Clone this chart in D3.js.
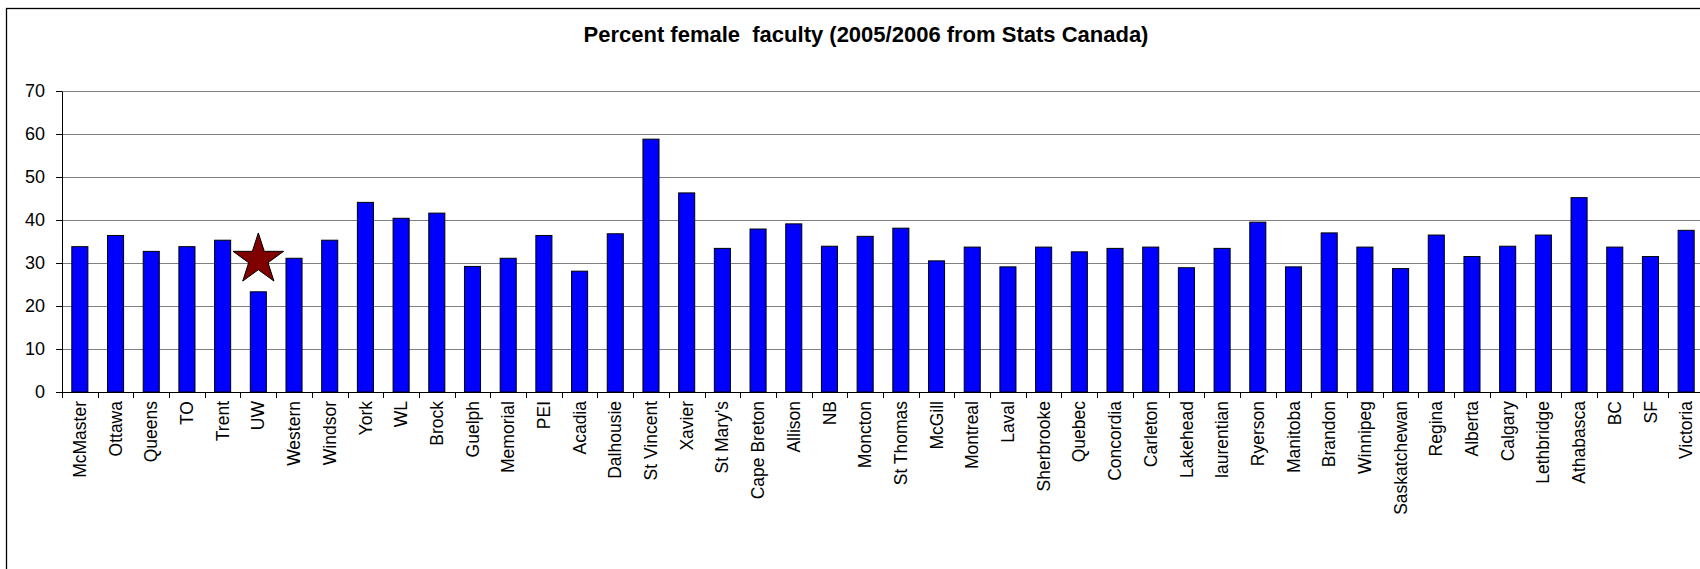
<!DOCTYPE html>
<html><head><meta charset="utf-8">
<script src="https://cdn.jsdelivr.net/npm/d3@7"></script>
<style>body{margin:0;background:#fff}svg{display:block}text{font-family:"Liberation Sans",Arial,sans-serif}</style>
</head><body><svg id="chart" width="1700" height="569"></svg>
<script>
const categories = ["McMaster","Ottawa","Queens","TO","Trent","UW","Western","Windsor","York","WL","Brock","Guelph","Memorial","PEI","Acadia","Dalhousie","St Vincent","Xavier","St Mary's","Cape Breton","Allison","NB","Moncton","St Thomas","McGill","Montreal","Laval","Sherbrooke","Quebec","Concordia","Carleton","Lakehead","laurentian","Ryerson","Manitoba","Brandon","Winnipeg","Saskatchewan","Regina","Alberta","Calgary","Lethbridge","Athabasca","BC","SF","Victoria"];
const values = [33.8,36.4,32.7,33.8,35.3,23.3,31.1,35.3,44.1,40.4,41.6,29.2,31.1,36.4,28.1,36.8,58.8,46.3,33.4,37.9,39.1,33.9,36.2,38.1,30.5,33.7,29.1,33.7,32.6,33.4,33.7,28.9,33.4,39.5,29.1,37.0,33.7,28.7,36.5,31.5,33.9,36.5,45.2,33.7,31.5,37.6];
const yTicks = [0,10,20,30,40,50,60,70];
const titleText = "Percent female  faculty (2005/2006 from Stats Canada)";
const highlightCategory = "UW";
const highlightValue = 30.8;

const W = 1700, H = 569;
const svg = d3.select("#chart");

// outer chart frame
svg.append("rect").attr("x", 6.5).attr("y", 8.5).attr("width", 1800).attr("height", 1000)
  .attr("fill", "none").attr("stroke", "#000").attr("stroke-width", 1.3);

const x = d3.scaleBand().domain(categories).range([62, 1704]).paddingInner(0.55).paddingOuter(0.275);
const y = d3.scaleLinear().domain([0, 70]).range([392, 91]);

// gridlines
svg.append("g").selectAll("line").data(yTicks.filter(t => t > 0)).join("line")
  .attr("x1", 62).attr("x2", 1704)
  .attr("y1", d => Math.round(y(d)) + 0.5).attr("y2", d => Math.round(y(d)) + 0.5)
  .attr("stroke", "#808080").attr("stroke-width", 1);

// bars
svg.append("g").selectAll("rect").data(categories).join("rect")
  .attr("x", d => x(d)).attr("y", (d, i) => y(values[i]))
  .attr("width", x.bandwidth()).attr("height", (d, i) => y(0) - y(values[i]))
  .attr("fill", "#0000FF").attr("stroke", "#000").attr("stroke-width", 1);

// y axis
const yAxis = svg.append("g").attr("transform", "translate(62,0)")
  .call(d3.axisLeft(y).tickValues(yTicks).tickSize(6).tickSizeOuter(0).tickPadding(11));
yAxis.select(".domain").attr("stroke", "#000");
yAxis.selectAll(".tick line").attr("stroke", "#000");
yAxis.selectAll("text").attr("font-size", 18).attr("fill", "#000")
  .style("font-family", '"Liberation Sans",Arial,sans-serif');

// x axis line and boundary ticks
const x0 = x.range()[0], step = x.step();
svg.append("line").attr("x1", 62).attr("x2", 1704).attr("y1", y(0) + 0.5).attr("y2", y(0) + 0.5)
  .attr("stroke", "#000");
svg.append("g").selectAll("line").data(d3.range(categories.length + 1)).join("line")
  .attr("x1", i => Math.round(x0 + i * step) + 0.5).attr("x2", i => Math.round(x0 + i * step) + 0.5)
  .attr("y1", y(0)).attr("y2", y(0) + 6).attr("stroke", "#000");

// x labels
svg.append("g").selectAll("text").data(categories).join("text")
  .attr("transform", d => `translate(${x(d) + x.bandwidth() / 2},401) rotate(-90)`)
  .attr("text-anchor", "end").attr("dy", "0.35em")
  .attr("font-size", 17.5).attr("fill", "#000")
  .text(d => d);

// highlight star
const R = 26.6, r = R * 0.382;
const starPts = d3.range(10).map(k => {
  const a = k * Math.PI / 5, rad = k % 2 === 0 ? R : r;
  return [Math.sin(a) * rad, -Math.cos(a) * rad];
});
svg.append("path")
  .attr("d", d3.line()(starPts) + "Z")
  .attr("transform", `translate(${x(highlightCategory) + x.bandwidth() / 2},${y(highlightValue)})`)
  .attr("fill", "#800000").attr("stroke", "#000").attr("stroke-width", 1);

// title
svg.append("text").attr("x", 866).attr("y", 42).attr("text-anchor", "middle")
  .attr("font-size", 22).attr("font-weight", "bold").attr("fill", "#000")
  .style("white-space", "pre").text(titleText);
</script></body></html>
